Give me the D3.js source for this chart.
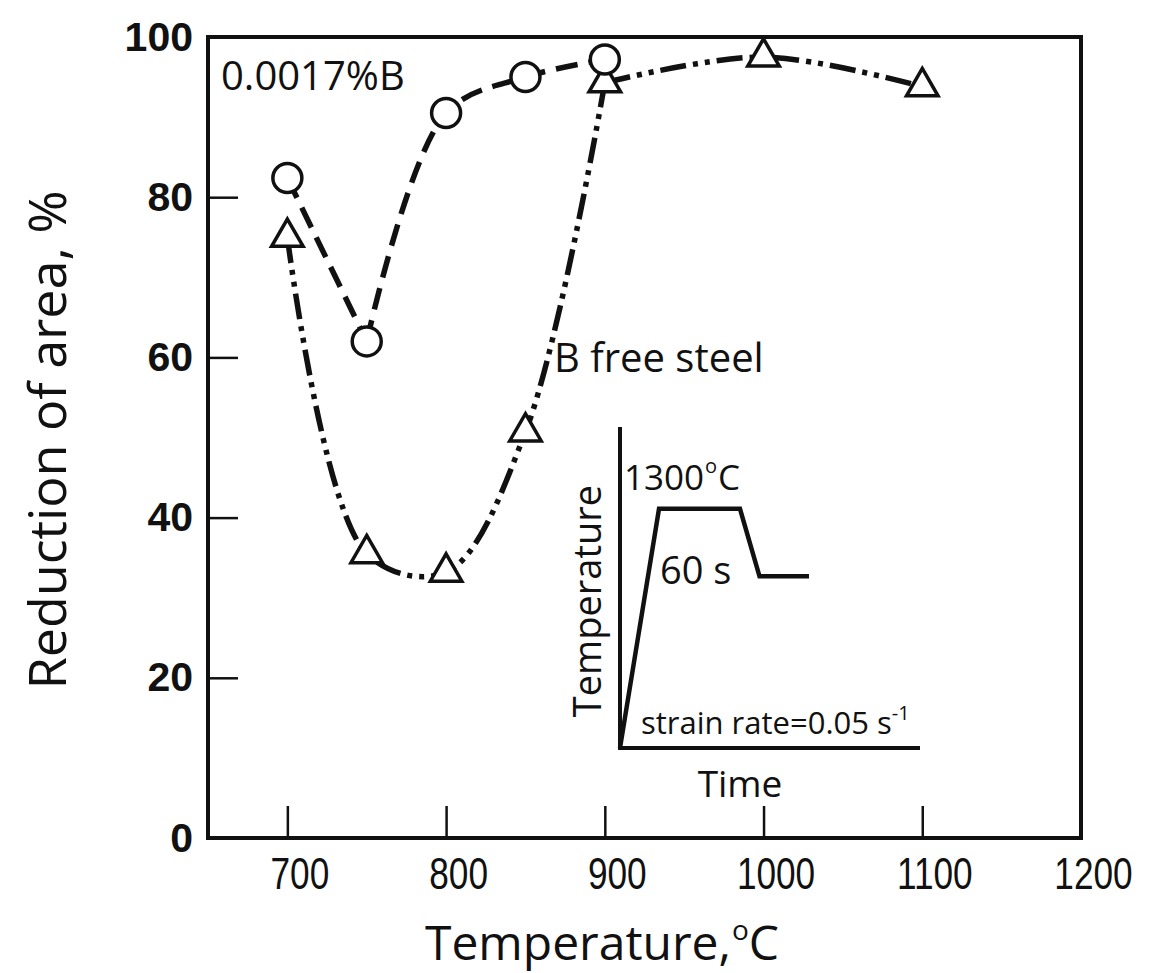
<!DOCTYPE html>
<html>
<head>
<meta charset="utf-8">
<script src="https://cdn.jsdelivr.net/npm/d3@7"></script>
<style>
  body { margin: 0; background: #fff; }
  text { fill: #111; }
</style>
</head>
<body>
<svg id="chart" width="1159" height="973"></svg>
<script>
// Hot ductility: reduction of area vs. test temperature
const boronTemps = [700, 750, 800, 850, 900];
const boronRA    = [82.4, 62.0, 90.5, 95.0, 97.2];
const freeTemps  = [700, 750, 800, 850, 900, 1000, 1100];
const freeRA     = [75.0, 35.5, 33.2, 50.7, 94.3, 97.5, 93.8];
const xTicks = [700, 800, 900, 1000, 1100, 1200];
const yTicks = [0, 20, 40, 60, 80, 100];
const boronLabel = "0.0017%B";
const freeLabel = "B free steel";

// Thermal cycle schematic (relative time / temperature units)
const cycleTime = [0, 13, 40, 46.5, 63];
const cycleTemp = [0, 74.5, 74.5, 53.5, 53.5];

const svg = d3.select("#chart");
const plotLeft = 208, plotRight = 1081, plotTop = 37, plotBottom = 838;

const x = d3.scaleLinear().domain([650, 1200]).range([plotLeft, plotRight]);
const y = d3.scaleLinear().domain([0, 100]).range([plotBottom, plotTop]);

// Axes with inward ticks
const xAxis = svg.append("g")
  .attr("transform", `translate(0,${plotBottom})`)
  .call(d3.axisBottom(x).tickValues(xTicks).tickFormat(d3.format("d"))
    .tickSizeInner(-32).tickSizeOuter(0).tickPadding(20));
xAxis.select(".domain").remove();
xAxis.selectAll(".tick line").attr("stroke", "#111").attr("stroke-width", 2.5);
xAxis.selectAll(".tick text")
  .attr("fill", "#111")
  .style("font-family", "'Liberation Sans', Arial, sans-serif")
  .style("font-size", "44px")
  .attr("dy", "0.71em")
  .attr("x", 12)
  .attr("transform", "translate(12,0) scale(0.8,1) translate(-12,0)");

const yAxis = svg.append("g")
  .attr("transform", `translate(${plotLeft},0)`)
  .call(d3.axisLeft(y).tickValues(yTicks).tickSizeInner(-30).tickSizeOuter(0).tickPadding(15));
yAxis.select(".domain").remove();
yAxis.selectAll(".tick line").attr("stroke", "#111").attr("stroke-width", 2.5);
yAxis.selectAll(".tick text")
  .attr("fill", "#111")
  .style("font-family", "'Liberation Sans', Arial, sans-serif")
  .style("font-weight", "bold")
  .style("font-size", "41px");

// Plot frame
svg.append("rect")
  .attr("x", plotLeft).attr("y", plotTop)
  .attr("width", plotRight - plotLeft).attr("height", plotBottom - plotTop)
  .attr("fill", "none").attr("stroke", "#111").attr("stroke-width", 4);

// Curves (drawn piecewise where the trend turns sharply at a test point)
const boronPts = boronTemps.map((t, i) => [t, boronRA[i]]);
const freePts = freeTemps.map((t, i) => [t, freeRA[i]]);

const straight = d3.line().x(d => x(d[0])).y(d => y(d[1]));
const smooth = d3.line().x(d => x(d[0])).y(d => y(d[1])).curve(d3.curveCatmullRom.alpha(0.5));

const freeLine = svg.append("g")
  .attr("fill", "none").attr("stroke", "#111").attr("stroke-width", 5.5)
  .attr("stroke-dasharray", "26,7,5,7,5,7");
freeLine.append("path").attr("d", smooth(freePts.slice(0, 5)));
freeLine.append("path").attr("d", smooth(freePts.slice(4)));

const boronLine = svg.append("g")
  .attr("fill", "none").attr("stroke", "#111").attr("stroke-width", 5.5)
  .attr("stroke-dasharray", "22,11");
boronLine.append("path").attr("d", straight(boronPts.slice(0, 2)));
boronLine.append("path").attr("d", smooth(boronPts.slice(1)));

// Markers
svg.append("g").selectAll("path")
  .data(freePts)
  .join("path")
  .attr("d", d3.symbol(d3.symbolTriangle, 430)())
  .attr("transform", d => `translate(${x(d[0])},${y(d[1])})`)
  .attr("fill", "#fff").attr("stroke", "#111").attr("stroke-width", 3.5);

svg.append("g").selectAll("circle")
  .data(boronPts)
  .join("circle")
  .attr("cx", d => x(d[0])).attr("cy", d => y(d[1])).attr("r", 14.5)
  .attr("fill", "#fff").attr("stroke", "#111").attr("stroke-width", 3.5);

// Series labels
const labelFont = "'Open Sans', 'Noto Sans', sans-serif";
svg.append("text").attr("x", 221).attr("y", 90)
  .style("font-family", labelFont).style("font-size", "40px")
  .text(boronLabel);
svg.append("text").attr("x", 554).attr("y", 372)
  .style("font-family", labelFont).style("font-size", "40px")
  .text(freeLabel);

// Axis titles
svg.append("text")
  .attr("transform", `translate(66,440) rotate(-90)`)
  .attr("text-anchor", "middle")
  .style("font-family", labelFont).style("font-size", "52px")
  .text("Reduction of area, %");

const xt = svg.append("text")
  .attr("x", 602).attr("y", 960)
  .attr("text-anchor", "middle")
  .style("font-family", labelFont).style("font-size", "48px");
xt.append("tspan").text("Temperature,");
xt.append("tspan").attr("dy", -20).attr("dx", 1).style("font-size", "28px").text("o");
xt.append("tspan").attr("dy", 20).attr("dx", 0).text("C");

// Inset: thermal cycle schematic
const ix = d3.scaleLinear().domain([0, 100]).range([620, 920]);
const iy = d3.scaleLinear().domain([0, 100]).range([748, 427]);
const inset = svg.append("g");
inset.append("path")
  .attr("d", d3.line()([[ix(0), iy(100)], [ix(0), iy(0)], [ix(100), iy(0)]]))
  .attr("fill", "none").attr("stroke", "#111").attr("stroke-width", 4);
inset.append("path")
  .attr("d", d3.line().x((d, i) => ix(cycleTime[i])).y((d, i) => iy(cycleTemp[i]))(cycleTime))
  .attr("fill", "none").attr("stroke", "#111").attr("stroke-width", 4.5)
  .attr("stroke-linejoin", "miter");

const insetFont = "'Open Sans', 'Noto Sans', sans-serif";
const t1300 = inset.append("text").attr("x", 624).attr("y", 490)
  .style("font-family", insetFont).style("font-size", "35px");
t1300.append("tspan").text("1300");
t1300.append("tspan").attr("dy", -17).attr("dx", 1).style("font-size", "20px").text("o");
t1300.append("tspan").attr("dy", 17).attr("dx", 1).text("C");

inset.append("text").attr("x", 660).attr("y", 584)
  .style("font-family", insetFont).style("font-size", "38px")
  .text("60 s");

inset.append("text")
  .attr("transform", `translate(601,601) rotate(-90)`)
  .attr("text-anchor", "middle")
  .style("font-family", insetFont).style("font-size", "38px")
  .text("Temperature");

const sr = inset.append("text").attr("x", 641).attr("y", 734)
  .style("font-family", insetFont).style("font-size", "31px");
sr.append("tspan").text("strain rate=0.05 s");
sr.append("tspan").attr("dy", -14).style("font-size", "20px").text("-1");

inset.append("text").attr("x", 740).attr("y", 797)
  .attr("text-anchor", "middle")
  .style("font-family", insetFont).style("font-size", "37px")
  .text("Time");
</script>
</body>
</html>
